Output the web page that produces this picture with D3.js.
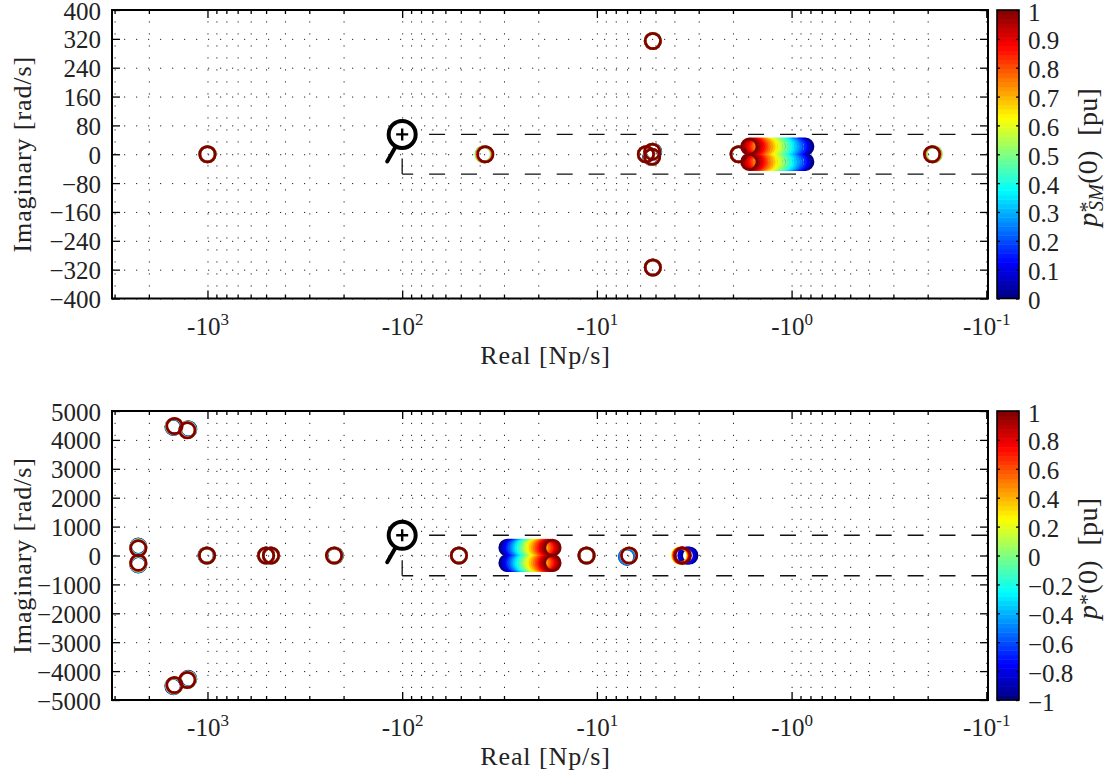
<!DOCTYPE html>
<html>
<head>
<meta charset="utf-8">
<script src="https://cdn.jsdelivr.net/npm/d3@7"></script>
<style>
html, body { margin: 0; padding: 0; background: #fff; }
text { font-family: "Liberation Serif", serif; fill: #222; }
</style>
</head>
<body>
<script>
//poles of the two operating point sweeps

//Upper chart, isolated poles: real and imaginary tracks, one value per entry of topPoleP
var topPoleP = [0, 0.25, 0.5, 0.75, 1];
var topPoleRe = [
    [1000, 1000, 1000, 1000, 1000],
    [37.7, 38.0, 38.2, 37.8, 37.4],
    [5.60, 5.60, 5.60, 5.60, 5.60],
    [5.14, 5.16, 5.18, 5.19, 5.20],
    [5.26, 5.24, 5.22, 5.21, 5.20],
    [5.16, 5.16, 5.16, 5.16, 5.16],
    [5.16, 5.16, 5.16, 5.16, 5.16],
    [1.87, 1.87, 1.87, 1.87, 1.87],
    [0.1885, 0.187, 0.186, 0.188, 0.190]
];
var topPoleIm = [
    [0, 0, 0, 0, 0],
    [0, 0, 0, 0, 0],
    [0, 0, 0, 0, 0],
    [7, 7, 7, 7, 7],
    [-7, -7, -7, -7, -7],
    [314, 314, 314, 314, 314],
    [-314, -314, -314, -314, -314],
    [0, 0, 0, 0, 0],
    [0, 0, 0, 0, 0]
];

//Upper chart, the pair that sweeps along the real axis
var topBandP = [0, 0.04, 0.08, 0.12, 0.16, 0.2, 0.24, 0.28, 0.32, 0.36, 0.4, 0.44, 0.48, 0.52, 0.56, 0.6, 0.64, 0.68, 0.72, 0.76, 0.8, 0.84, 0.88, 0.92, 0.96, 1];
var topBandRe = [0.85, 0.87, 0.89, 0.91, 0.93, 0.96, 0.985, 1.01, 1.04, 1.07, 1.10, 1.13, 1.16, 1.20, 1.235, 1.27, 1.31, 1.345, 1.38, 1.42, 1.46, 1.495, 1.53, 1.57, 1.61, 1.65];
var topBandIm = [21.4, -21.4];

//Lower chart, isolated poles
var botPoleP = [-1, -0.5, 0, 0.5, 1];
var botPoleRe = [
    [1495, 1490, 1485, 1480, 1477],
    [1255, 1258, 1262, 1266, 1270],
    [1495, 1490, 1485, 1480, 1477],
    [1255, 1258, 1262, 1266, 1270],
    [2266, 2266, 2266, 2266, 2266],
    [2266, 2266, 2266, 2266, 2266],
    [1012, 1010, 1008, 1006, 1005],
    [500, 500, 500, 500, 500],
    [472, 472, 472, 472, 472],
    [222, 222, 223, 223, 224],
    [51.1, 51.1, 51.1, 51.1, 51.1],
    [11.3, 11.3, 11.3, 11.3, 11.3],
    [7.0, 6.98, 6.85, 6.84, 6.83]
];
var botPoleIm = [
    [4450, 4460, 4470, 4476, 4481],
    [4370, 4360, 4350, 4340, 4332],
    [-4520, -4510, -4500, -4490, -4481],
    [-4270, -4280, -4290, -4300, -4308],
    [310, 295, 280, 262, 249],
    [-310, -295, -280, -262, -249],
    [0, 0, 0, 0, 0],
    [0, 0, 0, 0, 0],
    [0, 0, 0, 0, 0],
    [0, 0, 0, 0, 0],
    [0, 0, 0, 0, 0],
    [0, 0, 0, 0, 0],
    [-40, -40, -5, 0, 0]
];

//Lower chart, the pair that sweeps along the real axis
var botBandP = [-1, -0.92, -0.84, -0.76, -0.68, -0.6, -0.52, -0.44, -0.36, -0.28, -0.2, -0.12, -0.04, 0.04, 0.12, 0.2, 0.28, 0.36, 0.44, 0.52, 0.6, 0.68, 0.76, 0.84, 0.92, 1];
var botBandRe = [28.8, 28.2, 27.6, 27.0, 26.4, 25.9, 25.3, 24.8, 24.3, 23.8, 23.3, 22.8, 22.3, 21.8, 21.4, 20.9, 20.5, 20.1, 19.6, 19.2, 18.8, 18.4, 18.0, 17.7, 17.3, 16.9];
var botBandIm = [270, -260];

//Lower chart, the small group near -3.5
var botGroupP = [-1, -0.9, -0.8, 0.2, 0.3, 0.4, 0.5, 0.6, 0.7, 0.8, 0.9, 1];
var botGroupRe = [3.35, 3.41, 3.47, 3.74, 3.725, 3.71, 3.695, 3.68, 3.665, 3.65, 3.635, 3.62];

//Axes
var xMajor = [-1000, -100, -10, -1, -0.1];
var xMajorExp = ["3", "2", "1", "0", "-1"];
var xMinorDigits = [2, 3, 4, 5, 6, 7, 8, 9];
var xDecades = [-1000, -100, -10, -1, -0.1];
var topYTicks = [-400, -320, -240, -160, -80, 0, 80, 160, 240, 320, 400];
var botYTicks = [-5000, -4000, -3000, -2000, -1000, 0, 1000, 2000, 3000, 4000, 5000];
var topBarTicks = [0, 0.1, 0.2, 0.3, 0.4, 0.5, 0.6, 0.7, 0.8, 0.9, 1];
var botBarTicks = [-1, -0.8, -0.6, -0.4, -0.2, 0, 0.2, 0.4, 0.6, 0.8, 1];

var w = 1107;
var h = 776;

var svg = d3.select("body")
    .append("svg")
    .attr("width", w)
    .attr("height", h)
    .style("display", "block");

//MATLAB jet
var jet = function(t) {
    var ramp = function(v) { return Math.round(255 * Math.max(0, Math.min(1, 1.5 - Math.abs(v)))); };
    return d3.rgb(ramp(4 * t - 3), ramp(4 * t - 2), ramp(4 * t - 1)).formatHex();
};

var drawPanel = function(p) {
    var left = 112, right = 988, barLeft = 997, barRight = 1019;

    var x = d3.scaleLog().domain([-3093, -0.098]).range([left, right]);
    var y = d3.scaleLinear().domain(p.yDomain).range([p.bottom, p.top]);
    var c = d3.scaleLinear().domain(p.barDomain).range([0, 1]);
    var barY = d3.scaleLinear().domain(p.barDomain).range([p.bottom, p.top]);

    var xMinor = [];
    xDecades.forEach(function(d) {
        xMinorDigits.forEach(function(m) {
            var v = d * m;
            if (v > x.domain()[0] && v < x.domain()[1]) xMinor.push(v);
        });
    });
    var xAll = xMajor.concat(xMinor);

    var g = svg.append("g");

    //dotted grid
    var gridStyle = function(sel) {
        sel.select(".domain").remove();
        sel.selectAll("line")
            .attr("stroke", "#222")
            .attr("stroke-width", 1)
            .attr("stroke-dasharray", "1.2 10.8");
    };
    g.append("g")
        .attr("transform", "translate(0," + p.bottom + ")")
        .call(d3.axisBottom(x).tickValues(xAll).tickSize(-(p.bottom - p.top)).tickFormat(""))
        .call(gridStyle);
    g.append("g")
        .attr("transform", "translate(" + left + ",0)")
        .call(d3.axisLeft(y).tickValues(p.yTicks).tickSize(-(right - left)).tickFormat(""))
        .call(gridStyle);

    //poles, low values first so the dark red ones end up on top
    var rings = [];
    p.poleRe.forEach(function(track, i) {
        track.forEach(function(re, j) {
            rings.push({ re: re, im: p.poleIm[i][j], v: p.poleP[j] });
        });
    });
    p.bandIm.forEach(function(im) {
        p.bandRe.forEach(function(re, j) {
            rings.push({ re: re, im: im, v: p.bandP[j] });
        });
    });
    p.groupRe.forEach(function(re, j) {
        rings.push({ re: re, im: 0, v: p.groupP[j] });
    });
    //stable sort keeps each pair in its own sweep order
    rings.sort(function(a, b) { return d3.ascending(a.v, b.v); });

    g.append("g").selectAll("circle")
        .data(rings)
        .enter()
        .append("circle")
        .attr("cx", function(d) { return x(-d.re); })
        .attr("cy", function(d) { return y(d.im); })
        .attr("r", 7.7)
        .attr("fill", "none")
        .attr("stroke-width", 2.7)
        .attr("stroke", function(d) { return jet(c(d.v)); });

    //zoom window
    var zx = x(p.zoomRe), zt = y(p.zoomIm), zb = y(-p.zoomIm);
    [zt, zb].forEach(function(yy) {
        g.append("line")
            .attr("x1", zx).attr("x2", right)
            .attr("y1", yy).attr("y2", yy)
            .attr("stroke", "#111")
            .attr("stroke-width", 1.3)
            .attr("stroke-dasharray", "16 15.9")
            .attr("stroke-dashoffset", 5);
    });
    g.append("line")
        .attr("x1", zx).attr("x2", zx)
        .attr("y1", zb - 15.5).attr("y2", zb)
        .attr("stroke", "#111")
        .attr("stroke-width", 1.3);

    //magnifier
    g.append("line")
        .attr("x1", zx - 7).attr("y1", zt + 13)
        .attr("x2", zx - 15).attr("y2", zt + 27)
        .attr("stroke", "#000")
        .attr("stroke-width", 4)
        .attr("stroke-linecap", "round");
    g.append("circle")
        .attr("cx", zx).attr("cy", zt)
        .attr("r", 13.5)
        .attr("fill", "#fff")
        .attr("stroke", "#000")
        .attr("stroke-width", 4);
    g.append("path")
        .attr("d", "M" + (zx - 6) + "," + zt + "H" + (zx + 6) + "M" + zx + "," + (zt - 6) + "V" + (zt + 6))
        .attr("stroke", "#000")
        .attr("stroke-width", 2.4);

    //inward ticks on all four sides
    var tickStyle = function(sel) {
        sel.select(".domain").remove();
        sel.selectAll("line").attr("stroke", "#000").attr("stroke-width", 1.3);
    };
    g.append("g")
        .attr("transform", "translate(0," + p.bottom + ")")
        .call(d3.axisBottom(x).tickValues(xMinor).tickSize(-4).tickFormat(""))
        .call(tickStyle);
    g.append("g")
        .attr("transform", "translate(0," + p.top + ")")
        .call(d3.axisTop(x).tickValues(xMinor).tickSize(-4).tickFormat(""))
        .call(tickStyle);
    g.append("g")
        .attr("transform", "translate(0," + p.top + ")")
        .call(d3.axisTop(x).tickValues(xMajor).tickSize(-8).tickFormat(""))
        .call(tickStyle);
    g.append("g")
        .attr("transform", "translate(" + right + ",0)")
        .call(d3.axisRight(y).tickValues(p.yTicks).tickSize(-8).tickFormat(""))
        .call(tickStyle);

    //bottom axis with -10^n labels
    var xAxisG = g.append("g")
        .attr("transform", "translate(0," + p.bottom + ")")
        .call(d3.axisBottom(x).tickValues(xMajor).tickSize(-8).tickPadding(0))
        .call(tickStyle);
    xAxisG.selectAll("text").each(function(d, i) {
        var t = d3.select(this);
        t.text("")
            .attr("y", 36)
            .attr("dy", 0)
            .attr("text-anchor", "middle")
            .style("font-family", '"Liberation Serif", serif')
            .style("font-size", "25px")
            .attr("fill", "#222");
        t.append("tspan").text("-10");
        t.append("tspan").text(xMajorExp[i]).attr("dy", -10).style("font-size", "17px");
    });

    //left axis
    var yAxisG = g.append("g")
        .attr("transform", "translate(" + left + ",0)")
        .call(d3.axisLeft(y).tickValues(p.yTicks).tickSize(-8).tickPadding(11).tickFormat(d3.format("d")))
        .call(tickStyle);
    yAxisG.selectAll("text")
        .attr("dy", "0.36em")
        .style("font-family", '"Liberation Serif", serif')
        .style("font-size", "25px")
        .attr("fill", "#222");

    //box
    g.append("rect")
        .attr("x", left).attr("y", p.top)
        .attr("width", right - left).attr("height", p.bottom - p.top)
        .attr("fill", "none")
        .attr("stroke", "#000")
        .attr("stroke-width", 2);

    //axis titles
    g.append("text")
        .attr("x", 545.5).attr("y", p.bottom + 65)
        .attr("text-anchor", "middle")
        .style("font-size", "26px")
        .style("letter-spacing", "0.9px")
        .text("Real [Np/s]");
    g.append("text")
        .attr("transform", "translate(31," + ((p.top + p.bottom) / 2) + ") rotate(-90)")
        .attr("text-anchor", "middle")
        .style("font-size", "26px")
        .style("letter-spacing", "0.9px")
        .text("Imaginary [rad/s]");

    //colour bar, 64 steps like the MATLAB map
    var steps = d3.range(64);
    var stepY = d3.scaleLinear().domain([0, 64]).range([p.bottom, p.top]);
    g.append("g").selectAll("rect")
        .data(steps)
        .enter()
        .append("rect")
        .attr("x", barLeft)
        .attr("width", barRight - barLeft)
        .attr("y", function(d) { return stepY(d + 1); })
        .attr("height", function(d) { return stepY(d) - stepY(d + 1) + 0.5; })
        .attr("fill", function(d) { return jet((d + 0.5) / 64); });
    g.append("g")
        .attr("transform", "translate(" + barLeft + ",0)")
        .call(d3.axisLeft(barY).tickValues(p.barTicks).tickSize(-3).tickFormat(""))
        .call(tickStyle);
    var barAxisG = g.append("g")
        .attr("transform", "translate(" + barRight + ",0)")
        .call(d3.axisRight(barY).tickValues(p.barTicks).tickSize(-3).tickPadding(9).tickFormat(function(d) { return d3.format("")(+d.toFixed(1)); }))
        .call(tickStyle);
    barAxisG.selectAll("text")
        .attr("dy", "0.4em")
        .style("font-family", '"Liberation Serif", serif')
        .style("font-size", "25px")
        .attr("fill", "#222");
    g.append("rect")
        .attr("x", barLeft).attr("y", p.top)
        .attr("width", barRight - barLeft).attr("height", p.bottom - p.top)
        .attr("fill", "none")
        .attr("stroke", "#000")
        .attr("stroke-width", 1.6);

    //colour bar title
    var title = g.append("text")
        .attr("transform", "translate(1097," + ((p.top + p.bottom) / 2 + 3) + ") rotate(-90)")
        .attr("text-anchor", "middle")
        .style("font-size", "28px")
        .style("letter-spacing", "0.3px")
        .style("white-space", "pre");
    title.append("tspan").text("p").style("font-style", "italic");
    title.append("tspan").text("*").attr("dy", -3).style("font-size", "22px");
    if (p.barSub) {
        title.append("tspan").text(p.barSub).attr("dx", -10).attr("dy", 9).style("font-style", "italic").style("font-size", "20px");
        title.append("tspan").text("(0)  [pu]").attr("dy", -6);
    } else {
        title.append("tspan").text("(0)  [pu]").attr("dy", 3);
    }
};

drawPanel({
    top: 10, bottom: 298.5,
    yDomain: [-400, 400], yTicks: topYTicks,
    barDomain: [0, 1], barTicks: topBarTicks, barSub: "SM",
    poleP: topPoleP, poleRe: topPoleRe, poleIm: topPoleIm,
    bandP: topBandP, bandRe: topBandRe, bandIm: topBandIm,
    groupP: [], groupRe: [],
    zoomRe: -100, zoomIm: 55
});

drawPanel({
    top: 411, bottom: 700,
    yDomain: [-5000, 5000], yTicks: botYTicks,
    barDomain: [-1, 1], barTicks: botBarTicks, barSub: "",
    poleP: botPoleP, poleRe: botPoleRe, poleIm: botPoleIm,
    bandP: botBandP, bandRe: botBandRe, bandIm: botBandIm,
    groupP: botGroupP, groupRe: botGroupRe,
    zoomRe: -100, zoomIm: 700
});
</script>
</body>
</html>
